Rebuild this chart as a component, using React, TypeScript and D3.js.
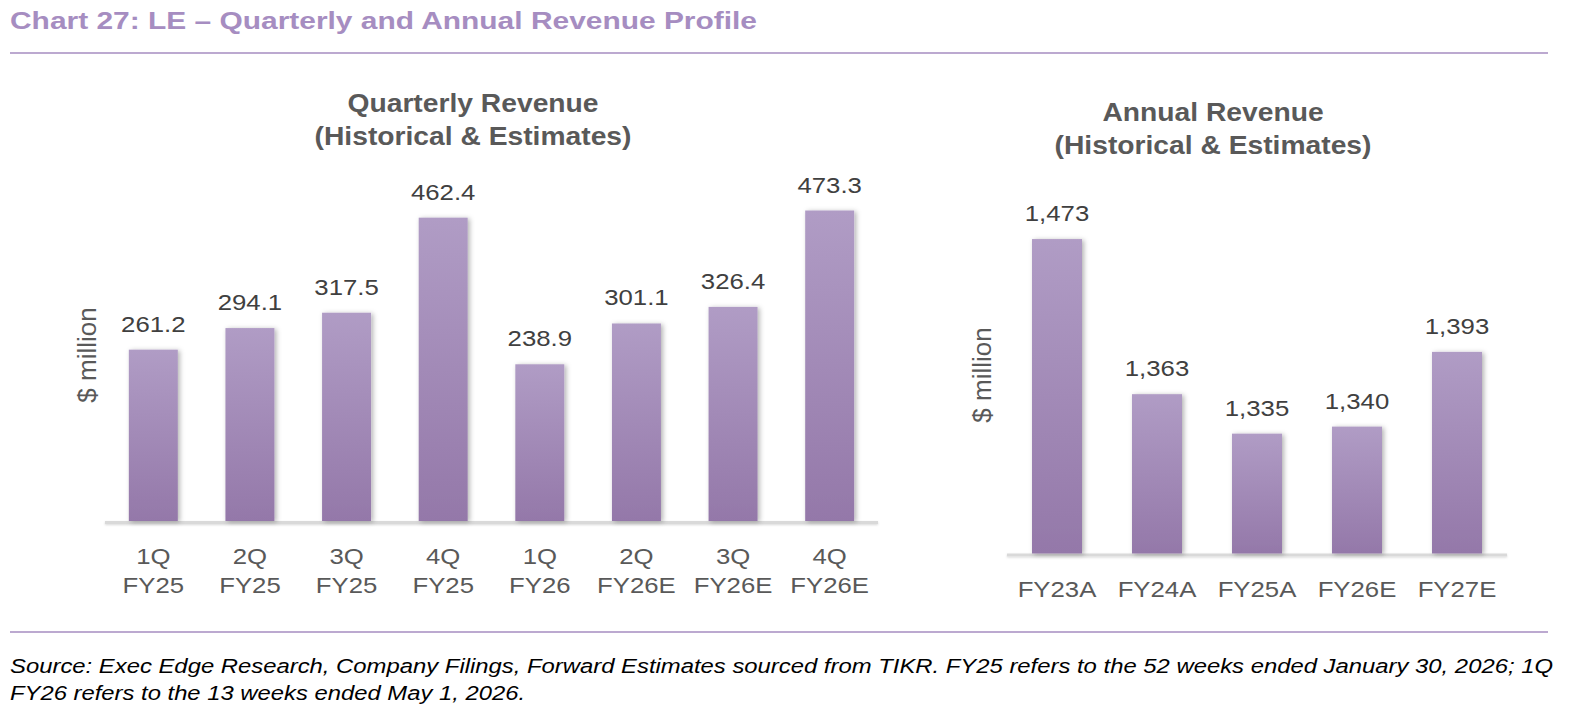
import React from "react";
import * as d3 from "d3";

const quarterCats: string[][] = [
  ["1Q", "FY25"], ["2Q", "FY25"], ["3Q", "FY25"], ["4Q", "FY25"],
  ["1Q", "FY26"], ["2Q", "FY26E"], ["3Q", "FY26E"], ["4Q", "FY26E"],
];
const quarterValues = [261.2, 294.1, 317.5, 462.4, 238.9, 301.1, 326.4, 473.3];
const quarterLabels = ["261.2", "294.1", "317.5", "462.4", "238.9", "301.1", "326.4", "473.3"];

const annualCats = ["FY23A", "FY24A", "FY25A", "FY26E", "FY27E"];
const annualValues = [1473, 1363, 1335, 1340, 1393];
const annualLabels = ["1,473", "1,363", "1,335", "1,340", "1,393"];

const titleText = "Chart 27: LE \u2013 Quarterly and Annual Revenue Profile";
const footer1 =
  "Source: Exec Edge Research, Company Filings, Forward Estimates sourced from TIKR. FY25 refers to the 52 weeks ended January 30, 2026; 1Q";
const footer2 = "FY26 refers to the 13 weeks ended May 1, 2026.";

const W = 1581;
const H = 718;
const FONT = "'Liberation Sans', Arial, Helvetica, sans-serif";
const SX = 1.12;
const PURPLE = "#a68dc1";

function T(props: {
  x: number; y: number; size: number; fill: string; weight?: string;
  anchor?: string; sx?: number; children: React.ReactNode; rotate?: number;
}) {
  const { x, y, size, fill, weight = "normal", anchor = "middle", sx = SX, children, rotate } = props;
  const tr = rotate !== undefined
    ? `translate(${x},${y}) rotate(${rotate})`
    : `translate(${x},${y}) scale(${sx},1)`;
  return (
    <text transform={tr} fontFamily={FONT} fontSize={size} fill={fill}
      fontWeight={weight} textAnchor={anchor as any}>
      {children}
    </text>
  );
}

function BarPanel(props: {
  cats: string[][]; values: number[]; labels: string[];
  x0: number; x1: number; yBase: number; yTop: number; domain: [number, number];
  pad: number; title: string[]; titleX: number; titleY: number; ylabX: number; ylabY: number;
}) {
  const { cats, values, labels, x0, x1, yBase, yTop, domain, pad, title, titleX, titleY, ylabX, ylabY } = props;
  const keys = cats.map((c, i) => String(i));
  const x = d3.scaleBand<string>().domain(keys).range([x0, x1]).paddingInner(pad).paddingOuter(pad / 2);
  const y = d3.scaleLinear().domain(domain).range([yBase, yTop]);
  return (
    <g>
      {title.map((t, i) => (
        <T key={i} x={titleX} y={titleY + i * 33} size={25} fill="#595959" weight="bold" sx={1.13}>{t}</T>
      ))}
      <T x={ylabX} y={ylabY} size={26} fill="#595959" rotate={-90}>$ million</T>
      <rect x={x0} y={yBase} width={x1 - x0} height={3} fill="#d9d9d9" filter="url(#axShadow)" />
      {values.map((v, i) => {
        const bx = x(keys[i])!;
        const by = y(v);
        return (
          <g key={i}>
            <rect x={bx} y={by} width={x.bandwidth()} height={yBase - by}
              fill="url(#barGrad)" filter="url(#barShadow)" />
            <T x={bx + x.bandwidth() / 2} y={by - 18} size={23} fill="#404040">{labels[i]}</T>
            {cats[i].map((c, j) => (
              <T key={j} x={bx + x.bandwidth() / 2} y={yBase + 43 + j * 29} size={23} fill="#595959">{c}</T>
            ))}
          </g>
        );
      })}
    </g>
  );
}

export default function App() {
  return (
    <svg width={W} height={H} viewBox={`0 0 ${W} ${H}`}
      style={{ position: "absolute", left: 0, top: 0, background: "#fff" }}>
      <defs>
        <linearGradient id="barGrad" x1="0" y1="0" x2="0" y2="1" gradientUnits="objectBoundingBox">
          <stop offset="0%" stopColor="#b09cc5" />
          <stop offset="100%" stopColor="#9478a9" />
        </linearGradient>
        <filter id="barShadow" x="-30%" y="-10%" width="160%" height="120%">
          <feDropShadow dx={2} dy={1} stdDeviation={2.5} floodColor="#000" floodOpacity={0.3} />
        </filter>
        <filter id="axShadow" x="-5%" y="-200%" width="110%" height="500%">
          <feDropShadow dx={0} dy={1} stdDeviation={1} floodColor="#000" floodOpacity={0.15} />
        </filter>
      </defs>
      <text x={10} y={29} fontFamily={FONT} fontSize={24} fontWeight="bold" fill={PURPLE}
        textLength={747} lengthAdjust="spacingAndGlyphs">{titleText}</text>
      <line x1={10} x2={1548} y1={53} y2={53} stroke={PURPLE} strokeWidth={1.5} />

      <BarPanel cats={quarterCats} values={quarterValues} labels={quarterLabels}
        x0={105} x1={878} yBase={521} yTop={193} domain={[0, 500]} pad={0.493}
        title={["Quarterly Revenue", "(Historical & Estimates)"]} titleX={473} titleY={112}
        ylabX={96} ylabY={355} />
      <BarPanel cats={annualCats.map((c) => [c])} values={annualValues} labels={annualLabels}
        x0={1007} x1={1507} yBase={553.5} yTop={201} domain={[1250, 1500]} pad={0.5}
        title={["Annual Revenue", "(Historical & Estimates)"]} titleX={1213} titleY={121}
        ylabX={991} ylabY={375} />

      <line x1={10} x2={1548} y1={632} y2={632} stroke={PURPLE} strokeWidth={1.5} />
      <text x={10} y={673} fontFamily={FONT} fontSize={20} fontStyle="italic" fill="#000"
        textLength={1543} lengthAdjust="spacingAndGlyphs">{footer1}</text>
      <text x={10} y={700} fontFamily={FONT} fontSize={20} fontStyle="italic" fill="#000"
        textLength={515} lengthAdjust="spacingAndGlyphs">{footer2}</text>
    </svg>
  );
}
